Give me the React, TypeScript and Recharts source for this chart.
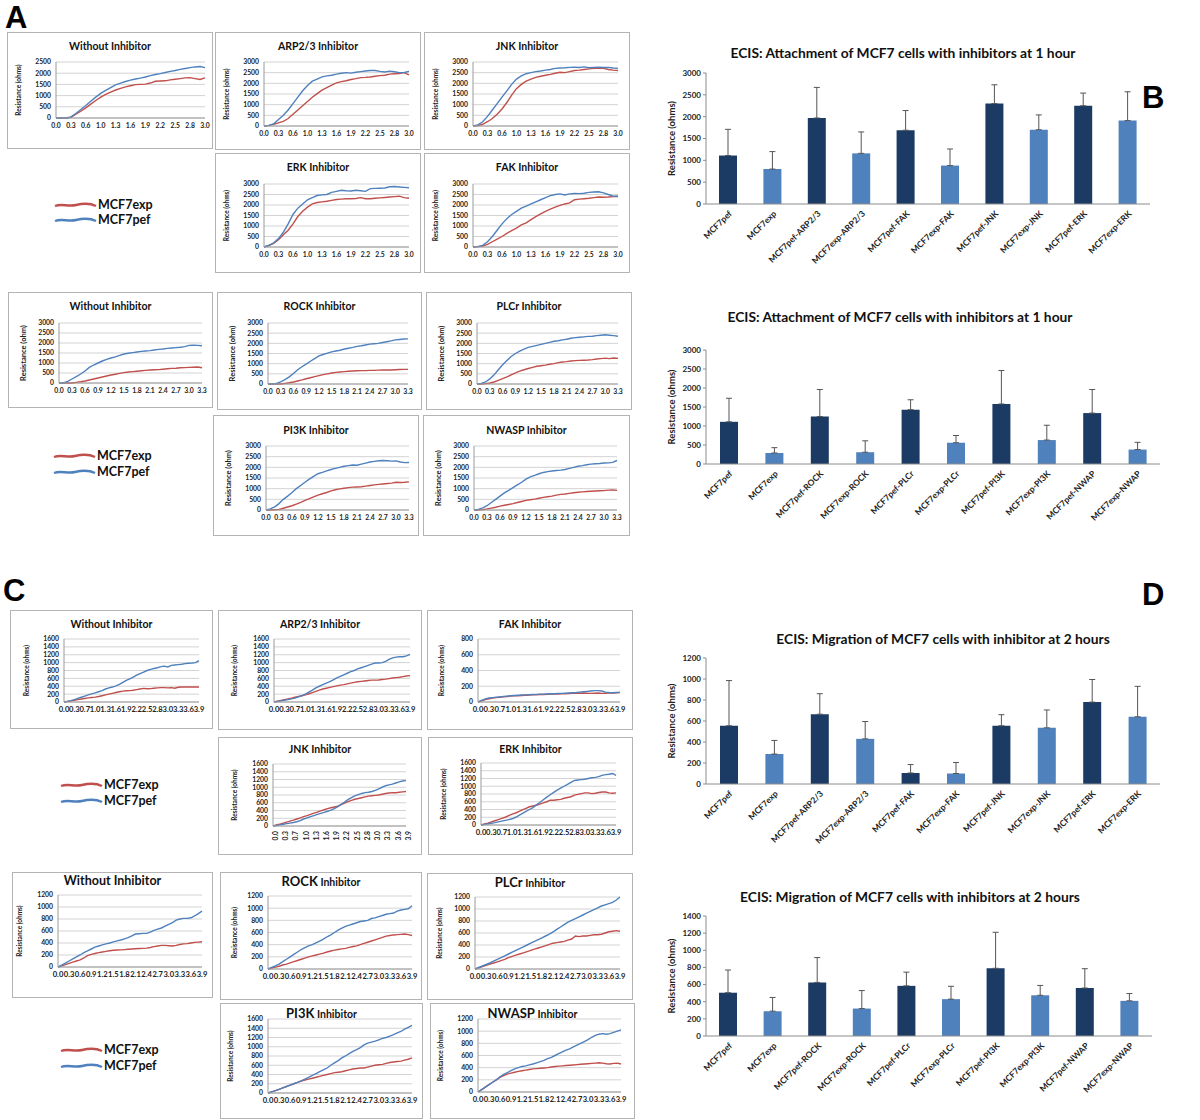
import React from 'react';
import { LineChart, Line, XAxis, YAxis, CartesianGrid, BarChart, Bar, Cell, ErrorBar } from 'recharts';

const RED = '#C0504D';
const BLUE = '#4F81BD';
const NAVY = '#1B3A64';
const FONT = 'Lato, "Open Sans", sans-serif';

// ---- time categories ----
const timesA30 = ['0.0', '0.1', '0.2', '0.3', '0.4', '0.5', '0.6', '0.7', '0.8', '1.0', '1.1', '1.2', '1.3', '1.4', '1.5', '1.6', '1.7', '1.8', '1.9', '2.0', '2.1', '2.2', '2.3', '2.4', '2.5', '2.6', '2.7', '2.8', '2.9', '2.95', '3.0'];
const timesA33 = ['0.0', '0.1', '0.2', '0.3', '0.4', '0.5', '0.6', '0.7', '0.8', '0.9', '1.0', '1.1', '1.2', '1.3', '1.4', '1.5', '1.6', '1.7', '1.8', '1.9', '2.0', '2.1', '2.2', '2.3', '2.4', '2.5', '2.6', '2.7', '2.8', '2.9', '3.0', '3.1', '3.2', '3.3'];
const timesC1 = ['0.0', '0.1', '0.2', '0.3', '0.4', '0.6', '0.7', '0.8', '0.9', '1.0', '1.1', '1.2', '1.3', '1.4', '1.5', '1.6', '1.7', '1.8', '1.9', '2.0', '2.1', '2.2', '2.3', '2.4', '2.5', '2.6', '2.7', '2.8', '2.9', '2.95', '3.0', '3.1', '3.2', '3.3', '3.4', '3.5', '3.6', '3.7', '3.8', '3.9'];
const timesC2 = ['0.0', '0.1', '0.2', '0.3', '0.4', '0.5', '0.6', '0.7', '0.8', '0.9', '1.0', '1.1', '1.2', '1.3', '1.4', '1.5', '1.6', '1.7', '1.8', '1.9', '2.0', '2.1', '2.2', '2.3', '2.4', '2.5', '2.6', '2.7', '2.8', '2.9', '3.0', '3.1', '3.2', '3.3', '3.4', '3.5', '3.6', '3.7', '3.8', '3.9'];

// ---- y ticks ----
const ticks2500 = [0, 500, 1000, 1500, 2000, 2500];
const ticks3000 = [0, 500, 1000, 1500, 2000, 2500, 3000];
const ticks1600 = [0, 200, 400, 600, 800, 1000, 1200, 1400, 1600];
const ticks800 = [0, 200, 400, 600, 800];
const ticks1200 = [0, 200, 400, 600, 800, 1000, 1200];
const ticks1400 = [0, 200, 400, 600, 800, 1000, 1200, 1400];

// ---- panel A, attachment curves (exp = red, pef = blue) ----
const aNoInhExp = [0, 0, 0, 30, 170, 300, 450, 620, 780, 930, 1050, 1160, 1250, 1320, 1390, 1440, 1490, 1500, 1510, 1560, 1640, 1650, 1660, 1700, 1730, 1760, 1790, 1800, 1760, 1720, 1790];
const aNoInhPef = [0, 0, 0, 50, 200, 380, 560, 750, 930, 1100, 1230, 1360, 1480, 1560, 1630, 1690, 1740, 1780, 1830, 1890, 1940, 1980, 2030, 2080, 2120, 2170, 2210, 2250, 2280, 2300, 2250];
const aArpExp = [0, 30, 80, 150, 220, 350, 550, 750, 950, 1150, 1350, 1520, 1680, 1800, 1920, 2020, 2080, 2120, 2180, 2220, 2270, 2280, 2300, 2330, 2360, 2380, 2430, 2450, 2460, 2500, 2400];
const aArpPef = [0, 30, 100, 300, 500, 750, 1050, 1350, 1650, 1900, 2100, 2200, 2300, 2350, 2380, 2430, 2470, 2500, 2480, 2520, 2550, 2580, 2600, 2600, 2560, 2530, 2570, 2540, 2500, 2510, 2560];
const aJnkExp = [0, 20, 80, 200, 350, 550, 800, 1100, 1450, 1750, 1950, 2100, 2200, 2280, 2330, 2380, 2420, 2470, 2520, 2500, 2550, 2600, 2620, 2650, 2680, 2700, 2710, 2700, 2650, 2620, 2600];
const aJnkPef = [0, 50, 200, 450, 750, 1050, 1350, 1650, 1950, 2200, 2350, 2450, 2500, 2550, 2580, 2620, 2650, 2700, 2720, 2730, 2750, 2760, 2740, 2770, 2730, 2750, 2760, 2740, 2750, 2720, 2700];
const aErkExp = [0, 70, 170, 350, 580, 800, 1100, 1450, 1700, 1900, 2050, 2120, 2150, 2180, 2220, 2260, 2280, 2300, 2300, 2310, 2350, 2300, 2300, 2320, 2340, 2360, 2380, 2400, 2420, 2350, 2320];
const aErkPef = [0, 80, 200, 400, 700, 1100, 1550, 1850, 2050, 2250, 2350, 2450, 2480, 2500, 2600, 2650, 2700, 2680, 2670, 2700, 2680, 2650, 2780, 2790, 2800, 2810, 2870, 2880, 2860, 2840, 2820];
const aFakExp = [0, 20, 40, 120, 250, 380, 500, 650, 780, 900, 1050, 1150, 1300, 1450, 1580, 1700, 1800, 1900, 1980, 2050, 2100, 2250, 2280, 2300, 2320, 2350, 2380, 2370, 2380, 2400, 2400];
const aFakPef = [0, 20, 80, 250, 500, 800, 1100, 1350, 1550, 1700, 1850, 1950, 2050, 2150, 2250, 2350, 2450, 2500, 2530, 2480, 2530, 2550, 2540, 2560, 2600, 2620, 2630, 2580, 2500, 2420, 2430];

const a2NoInhExp = [0, 0, 0, 0, 30, 60, 100, 150, 200, 250, 300, 350, 400, 440, 480, 520, 550, 570, 590, 610, 630, 650, 660, 670, 690, 710, 730, 740, 760, 770, 780, 790, 800, 760];
const a2NoInhPef = [0, 0, 80, 200, 320, 450, 600, 780, 900, 1000, 1100, 1180, 1250, 1310, 1380, 1450, 1490, 1520, 1550, 1580, 1600, 1620, 1650, 1680, 1700, 1730, 1750, 1770, 1790, 1820, 1880, 1890, 1880, 1860];
const aRockExp = [0, 0, 0, 0, 30, 60, 100, 150, 200, 260, 310, 360, 410, 460, 500, 540, 570, 590, 610, 630, 640, 650, 660, 660, 670, 670, 680, 690, 690, 690, 700, 710, 720, 720];
const aRockPef = [0, 0, 30, 100, 220, 350, 520, 700, 850, 980, 1120, 1250, 1380, 1450, 1520, 1580, 1620, 1660, 1720, 1760, 1800, 1850, 1880, 1920, 1960, 1980, 2000, 2040, 2080, 2120, 2170, 2190, 2210, 2220];
const aPlcExp = [0, 0, 20, 50, 100, 180, 260, 350, 450, 550, 630, 700, 760, 820, 870, 900, 930, 970, 1000, 1050, 1080, 1100, 1130, 1150, 1160, 1170, 1180, 1200, 1230, 1250, 1270, 1250, 1280, 1260];
const aPlcPef = [0, 30, 100, 250, 450, 700, 950, 1150, 1350, 1500, 1620, 1720, 1800, 1850, 1900, 1950, 2000, 2050, 2100, 2130, 2170, 2200, 2250, 2280, 2300, 2320, 2340, 2350, 2380, 2400, 2420, 2400, 2380, 2350];
const aPi3Exp = [0, 0, 10, 30, 80, 140, 200, 280, 360, 450, 530, 620, 700, 760, 820, 900, 950, 990, 1020, 1050, 1070, 1080, 1090, 1120, 1150, 1180, 1200, 1220, 1240, 1260, 1300, 1290, 1300, 1320];
const aPi3Pef = [0, 50, 150, 300, 500, 650, 820, 1000, 1150, 1300, 1450, 1580, 1700, 1760, 1830, 1900, 1950, 2000, 2050, 2080, 2110, 2100, 2150, 2200, 2250, 2280, 2310, 2320, 2310, 2290, 2300, 2250, 2220, 2230];
const aNwaExp = [0, 0, 20, 50, 90, 130, 180, 220, 260, 300, 350, 400, 450, 480, 510, 550, 590, 620, 650, 700, 730, 750, 780, 810, 830, 850, 870, 880, 890, 900, 910, 930, 940, 920];
const aNwaPef = [0, 30, 100, 200, 350, 500, 650, 800, 920, 1050, 1180, 1300, 1450, 1550, 1620, 1700, 1760, 1800, 1830, 1850, 1870, 1900, 1950, 2000, 2050, 2080, 2120, 2150, 2170, 2180, 2200, 2210, 2230, 2320];

// ---- panel C, migration curves ----
const cNoInhExp = [0, 15, 30, 45, 60, 75, 90, 105, 115, 125, 140, 160, 180, 200, 220, 240, 260, 275, 285, 290, 300, 315, 330, 345, 335, 340, 350, 360, 365, 365, 360, 365, 350, 375, 380, 380, 380, 380, 380, 380];
const cNoInhPef = [0, 15, 35, 60, 90, 120, 150, 180, 205, 230, 260, 290, 330, 360, 380, 410, 450, 500, 550, 590, 630, 680, 720, 760, 800, 830, 850, 870, 900, 910, 890, 930, 940, 950, 960, 975, 985, 990, 1000, 1050];
const cArpExp = [0, 20, 40, 60, 80, 100, 120, 140, 160, 180, 210, 240, 270, 300, 330, 350, 370, 390, 410, 430, 440, 460, 480, 500, 515, 525, 535, 545, 555, 555, 560, 570, 580, 595, 610, 620, 630, 645, 660, 670];
const cArpPef = [0, 15, 30, 45, 60, 80, 100, 130, 160, 200, 250, 300, 360, 400, 440, 480, 520, 560, 610, 650, 690, 730, 770, 800, 840, 870, 900, 930, 960, 990, 990, 1000, 1030, 1080, 1120, 1140, 1150, 1150, 1170, 1210];
const cFakExp = [0, 15, 30, 40, 50, 55, 60, 65, 70, 75, 78, 80, 82, 85, 88, 90, 92, 95, 95, 98, 100, 100, 102, 105, 105, 108, 110, 110, 112, 115, 112, 110, 112, 115, 110, 112, 115, 115, 118, 120];
const cFakPef = [0, 20, 40, 50, 55, 60, 65, 70, 75, 80, 82, 85, 88, 90, 92, 95, 97, 100, 100, 102, 105, 105, 108, 110, 112, 115, 118, 120, 125, 130, 135, 140, 145, 145, 140, 125, 120, 118, 120, 122];
const cJnkExp = [0, 25, 50, 75, 100, 125, 150, 180, 210, 240, 270, 300, 330, 360, 390, 420, 450, 470, 490, 510, 550, 590, 630, 660, 690, 710, 730, 750, 770, 780, 790, 800, 820, 840, 850, 860, 860, 870, 880, 890];
const cJnkPef = [0, 15, 30, 45, 60, 75, 90, 110, 140, 180, 210, 240, 270, 300, 325, 350, 380, 410, 450, 500, 560, 620, 680, 730, 780, 810, 840, 860, 870, 890, 920, 960, 1000, 1040, 1060, 1080, 1110, 1140, 1160, 1170];
const cErkExp = [0, 25, 50, 80, 110, 140, 170, 200, 240, 280, 310, 350, 390, 430, 470, 490, 510, 540, 570, 600, 640, 640, 650, 660, 690, 710, 730, 770, 790, 810, 830, 830, 810, 820, 840, 850, 850, 830, 820, 830];
const cErkPef = [0, 15, 30, 45, 60, 80, 100, 120, 140, 160, 200, 250, 300, 350, 400, 450, 520, 580, 650, 720, 780, 840, 900, 950, 1000, 1050, 1100, 1150, 1160, 1170, 1180, 1200, 1220, 1230, 1250, 1280, 1300, 1310, 1330, 1280];

const c2NoInhExp = [0, 20, 40, 60, 80, 100, 120, 150, 190, 210, 225, 240, 250, 260, 270, 280, 283, 286, 290, 295, 300, 305, 308, 310, 315, 325, 340, 350, 360, 360, 355, 350, 360, 375, 385, 390, 400, 410, 415, 420];
const c2NoInhPef = [0, 30, 65, 100, 135, 170, 200, 240, 270, 300, 330, 350, 370, 385, 400, 420, 435, 450, 470, 490, 520, 550, 555, 560, 560, 580, 610, 630, 650, 680, 710, 740, 780, 800, 810, 810, 820, 850, 890, 930];
const cRockExp = [0, 15, 30, 45, 65, 80, 100, 120, 140, 160, 180, 200, 215, 230, 245, 260, 280, 295, 310, 320, 330, 340, 355, 370, 380, 400, 420, 440, 460, 480, 500, 520, 540, 550, 560, 565, 570, 575, 565, 550];
const cRockPef = [0, 25, 50, 80, 120, 160, 200, 240, 280, 320, 350, 380, 400, 430, 460, 490, 530, 560, 600, 640, 670, 700, 720, 740, 760, 780, 790, 800, 830, 840, 860, 880, 900, 910, 920, 950, 970, 980, 990, 1040];
const cPlcExp = [0, 20, 40, 60, 80, 100, 120, 140, 160, 190, 210, 230, 250, 270, 290, 310, 330, 350, 370, 390, 410, 430, 440, 450, 460, 480, 500, 550, 540, 550, 550, 560, 570, 570, 580, 600, 620, 630, 640, 630];
const cPlcPef = [0, 25, 50, 75, 100, 130, 160, 190, 220, 250, 280, 310, 340, 370, 400, 430, 460, 490, 520, 550, 580, 620, 660, 700, 740, 780, 810, 840, 870, 900, 930, 960, 990, 1020, 1050, 1070, 1090, 1110, 1150, 1200];
const cPi3Exp = [0, 25, 50, 80, 110, 140, 170, 200, 230, 260, 280, 300, 320, 340, 360, 380, 400, 420, 440, 450, 460, 480, 500, 520, 530, 540, 540, 560, 580, 600, 610, 620, 640, 660, 670, 680, 690, 710, 730, 760];
const cPi3Pef = [0, 25, 50, 80, 110, 140, 170, 200, 230, 260, 300, 340, 380, 420, 460, 500, 540, 600, 650, 700, 760, 800, 850, 900, 940, 980, 1040, 1080, 1100, 1120, 1150, 1180, 1200, 1230, 1260, 1300, 1330, 1380, 1420, 1460];
const cNwaExp = [0, 40, 80, 120, 160, 200, 240, 270, 295, 310, 325, 340, 350, 360, 370, 380, 385, 390, 395, 400, 410, 420, 425, 430, 435, 440, 445, 450, 455, 460, 465, 470, 475, 480, 475, 465, 460, 470, 475, 460];
const cNwaPef = [0, 40, 80, 120, 160, 200, 250, 290, 320, 350, 380, 400, 420, 430, 445, 460, 480, 500, 520, 550, 570, 600, 630, 660, 690, 710, 740, 770, 800, 830, 860, 900, 930, 950, 960, 950, 960, 980, 1000, 1020];

// ---- bar charts ----
const groupB1 = ['MCF7pef', 'MCF7exp', 'MCF7pef-ARP2/3', 'MCF7exp-ARP2/3', 'MCF7pef-FAK', 'MCF7exp-FAK', 'MCF7pef-JNK', 'MCF7exp-JNK', 'MCF7pef-ERK', 'MCF7exp-ERK'];
const groupB2 = ['MCF7pef', 'MCF7exp', 'MCF7pef-ROCK', 'MCF7exp-ROCK', 'MCF7pef-PLCr', 'MCF7exp-PLCr', 'MCF7pef-PI3K', 'MCF7exp-PI3K', 'MCF7pef-NWAP', 'MCF7exp-NWAP'];
const attach1Mean = [1110, 800, 1970, 1160, 1690, 880, 2300, 1700, 2250, 1910];
const attach1Err = [600, 400, 700, 490, 450, 380, 430, 340, 290, 660];
const attach2Mean = [1110, 290, 1250, 310, 1430, 560, 1580, 630, 1340, 380];
const attach2Err = [620, 140, 710, 300, 260, 190, 880, 390, 620, 190];
const migr1Mean = [555, 285, 665, 430, 105, 100, 555, 535, 780, 640];
const migr1Err = [430, 130, 195, 165, 80, 105, 105, 170, 215, 290];
const migr2Mean = [505, 290, 625, 320, 585, 430, 790, 475, 560, 410];
const migr2Err = [265, 160, 290, 210, 160, 150, 420, 115, 225, 85];

type MiniProps = {
  box: [number, number, number, number];
  inset: [number, number, number, number];
  title: React.ReactNode;
  titleTop?: number;
  titleSize?: number;
  times: string[];
  red: number[];
  blue: number[];
  ticks: number[];
  yLabel?: string;
  labelOffset?: number;
  labelSize?: number;
  xFont?: number;
  rotateTicks?: boolean;
};

function MiniChart({ box, inset, title, titleTop = 8, titleSize = 10.5, times, red, blue, ticks, yLabel = 'Resistance (ohms)', labelOffset = 11, labelSize = 6.5, xFont = 6.8, rotateTicks = false }: MiniProps) {
  const data = times.map((t, i) => ({ t, exp: red[i], pef: blue[i] }));
  const [pl, pt, pr, pb] = inset;
  const top = ticks[ticks.length - 1];
  const yTick = { fontSize: 6.8, fontWeight: 700, fill: '#222', fontFamily: FONT };
  const xTick = { ...yTick, fontSize: xFont };
  return (
    <div style={{ position: 'absolute', left: box[0], top: box[1], width: box[2], height: box[3], border: '1px solid #b4b4b4', boxSizing: 'border-box', background: '#fff' }}>
      <div style={{ position: 'absolute', left: 0, top: 0 }}>
        <LineChart width={box[2] - 2} height={box[3] - 2} data={data} margin={{ top: pt, right: pr, left: 0, bottom: 0 }}>
          <CartesianGrid vertical={false} stroke="#d3d3d3" />
          <XAxis
            dataKey="t"
            interval={2}
            height={pb}
            tickLine={false}
            tickSize={3}
            axisLine={{ stroke: '#9a9a9a' }}
            tick={xTick}
            angle={rotateTicks ? -90 : 0}
            textAnchor={rotateTicks ? 'end' : 'middle'}
          />
          <YAxis
            width={pl}
            domain={[0, top]}
            ticks={ticks}
            interval={0}
            tickLine={false}
            tickSize={3}
            axisLine={{ stroke: '#9a9a9a' }}
            tick={yTick}
            label={{ value: yLabel, angle: -90, position: 'insideLeft', offset: labelOffset, style: { textAnchor: 'middle', fontSize: labelSize, fontWeight: 700, fill: '#222', fontFamily: FONT } }}
          />
          <Line type="linear" dataKey="exp" stroke={RED} strokeWidth={1.4} dot={false} isAnimationActive={false} />
          <Line type="linear" dataKey="pef" stroke={BLUE} strokeWidth={1.4} dot={false} isAnimationActive={false} />
        </LineChart>
      </div>
      <div style={{ position: 'absolute', left: 0, right: 0, top: titleTop, textAlign: 'center', fontFamily: FONT, fontWeight: 700, fontSize: titleSize, lineHeight: 1, color: '#111', whiteSpace: 'nowrap' }}>
        {title}
      </div>
    </div>
  );
}

function SeriesKey({ x, y, gap }: { x: number; y: number; gap: number }) {
  const wave = (cy: number) => `M1 ${cy + 1} C 8 ${cy - 2}, 14 ${cy + 2}, 22 ${cy} S 36 ${cy - 2}, 42 ${cy + 1}`;
  const text: React.CSSProperties = { position: 'absolute', left: 44, fontFamily: FONT, fontWeight: 700, fontSize: 12.5, lineHeight: '12px', color: '#111' };
  return (
    <div style={{ position: 'absolute', left: x, top: y }}>
      <svg width={44} height={gap + 12} style={{ position: 'absolute', left: 0, top: 0 }}>
        <path d={wave(6)} stroke={RED} strokeWidth={2.4} fill="none" />
        <path d={wave(6 + gap)} stroke={BLUE} strokeWidth={2.4} fill="none" />
      </svg>
      <div style={{ ...text, top: 0 }}>MCF7exp</div>
      <div style={{ ...text, top: gap }}>MCF7pef</div>
    </div>
  );
}

type BarProps = {
  plotTop: number;
  plotBottom: number;
  right: number;
  labels: string[];
  means: number[];
  errs: number[];
  ticks: number[];
  title: string;
  titleX: number;
  titleY: number;
};

function BarPanel({ plotTop, plotBottom, right, labels, means, errs, ticks, title, titleX, titleY }: BarProps) {
  const data = labels.map((name, i) => ({ name, value: means[i], err: [0, errs[i]] }));
  const left = 640;
  const width = right - left + 10;
  const xh = 66;
  const height = 8 + (plotBottom - plotTop) + xh;
  const top = ticks[ticks.length - 1];
  return (
    <>
      <div style={{ position: 'absolute', left: titleX - 260, width: 520, top: titleY - 8, textAlign: 'center', fontFamily: FONT, fontWeight: 700, fontSize: 13.8, lineHeight: '16px', color: '#111' }}>{title}</div>
      <div style={{ position: 'absolute', left, top: plotTop - 8 }}>
        <BarChart width={width} height={height} data={data} margin={{ top: 8, right: 10, left: 20, bottom: 0 }}>
          <XAxis
            dataKey="name"
            interval={0}
            angle={-45}
            textAnchor="end"
            height={xh}
            tickLine={false}
            tickSize={4}
            axisLine={{ stroke: '#8c8c8c' }}
            tick={{ fontSize: 8.5, fontWeight: 700, fill: '#222', fontFamily: FONT }}
          />
          <YAxis
            width={46}
            domain={[0, top]}
            ticks={ticks}
            interval={0}
            tickSize={3}
            axisLine={{ stroke: '#8c8c8c' }}
            tickLine={{ stroke: '#8c8c8c' }}
            tick={{ fontSize: 8, fontWeight: 700, fill: '#222', fontFamily: FONT }}
            label={{ value: 'Resistance (ohms)', angle: -90, position: 'insideLeft', offset: 12, style: { textAnchor: 'middle', fontSize: 9.5, fontWeight: 700, fill: '#222', fontFamily: FONT } }}
          />
          <Bar dataKey="value" barSize={18} isAnimationActive={false}>
            {data.map((d, i) => (
              <Cell key={d.name} fill={i % 2 === 0 ? NAVY : BLUE} />
            ))}
            <ErrorBar dataKey="err" width={3} stroke="#555" strokeWidth={1} direction="y" />
          </Bar>
        </BarChart>
      </div>
    </>
  );
}

const letterStyle: React.CSSProperties = { position: 'absolute', fontFamily: '"Liberation Sans", Arial, sans-serif', fontWeight: 700, fontSize: 31, lineHeight: '31px', color: '#000' };

function mixTitle(big: string, small: string) {
  return (
    <>
      <span style={{ fontSize: 13 }}>{big}</span> <span style={{ fontSize: 10.5 }}>{small}</span>
    </>
  );
}

export default function App() {
  return (
    <div style={{ position: 'absolute', left: 0, top: 0, width: 1200, height: 1120, background: '#fff', overflow: 'hidden' }}>
      <div style={{ ...letterStyle, left: 5, top: 2 }}>A</div>
      <div style={{ ...letterStyle, left: 1142, top: 82 }}>B</div>
      <div style={{ ...letterStyle, left: 3, top: 575 }}>C</div>
      <div style={{ ...letterStyle, left: 1142, top: 579 }}>D</div>

      {/* Panel A */}
      <MiniChart box={[7, 32, 206, 117]} inset={[48, 29, 7, 30]} title="Without Inhibitor" times={timesA30} red={aNoInhExp} blue={aNoInhPef} ticks={ticks2500} />
      <MiniChart box={[215, 32, 206, 118]} inset={[48, 29, 11, 23]} title="ARP2/3 Inhibitor" times={timesA30} red={aArpExp} blue={aArpPef} ticks={ticks3000} />
      <MiniChart box={[424, 32, 206, 118]} inset={[48, 29, 11, 23]} title="JNK Inhibitor" times={timesA30} red={aJnkExp} blue={aJnkPef} ticks={ticks3000} />
      <MiniChart box={[215, 153, 206, 120]} inset={[48, 30, 11, 25]} title="ERK Inhibitor" times={timesA30} red={aErkExp} blue={aErkPef} ticks={ticks3000} />
      <MiniChart box={[424, 153, 206, 120]} inset={[48, 30, 11, 25]} title="FAK Inhibitor" times={timesA30} red={aFakExp} blue={aFakPef} ticks={ticks3000} />
      <SeriesKey x={54} y={199} gap={15} />

      <MiniChart box={[8, 292, 205, 116]} inset={[50, 30, 10, 24]} title="Without Inhibitor" times={timesA33} red={a2NoInhExp} blue={a2NoInhPef} ticks={ticks3000} yLabel="Resistance (ohm)" labelOffset={14} labelSize={7.5} />
      <MiniChart box={[217, 292, 205, 118]} inset={[50, 30, 13, 25]} title="ROCK Inhibitor" times={timesA33} red={aRockExp} blue={aRockPef} ticks={ticks3000} yLabel="Resistance (ohm)" labelOffset={14} labelSize={7.5} />
      <MiniChart box={[426, 292, 206, 118]} inset={[50, 30, 13, 25]} title="PLCr Inhibitor" times={timesA33} red={aPlcExp} blue={aPlcPef} ticks={ticks3000} yLabel="Resistance (ohm)" labelOffset={14} labelSize={7.5} />
      <MiniChart box={[213, 415, 206, 121]} inset={[52, 30, 9, 25]} title="PI3K Inhibitor" titleTop={9} times={timesA33} red={aPi3Exp} blue={aPi3Pef} ticks={ticks3000} yLabel="Resistance (ohm)" labelOffset={14} labelSize={7.5} />
      <MiniChart box={[423, 415, 207, 121]} inset={[50, 30, 12, 25]} title="NWASP Inhibitor" titleTop={9} times={timesA33} red={aNwaExp} blue={aNwaPef} ticks={ticks3000} yLabel="Resistance (ohm)" labelOffset={14} labelSize={7.5} />
      <SeriesKey x={53} y={450} gap={16} />

      {/* Panel B */}
      <BarPanel plotTop={73} plotBottom={204} right={1150} labels={groupB1} means={attach1Mean} errs={attach1Err} ticks={ticks3000} title="ECIS: Attachment of MCF7 cells with inhibitors at 1 hour" titleX={903} titleY={53} />
      <BarPanel plotTop={350} plotBottom={464} right={1160} labels={groupB2} means={attach2Mean} errs={attach2Err} ticks={ticks3000} title="ECIS: Attachment of MCF7 cells with inhibitors at 1 hour" titleX={900} titleY={317} />

      {/* Panel C */}
      <MiniChart box={[10, 610, 203, 119]} inset={[53, 28, 13, 26]} title="Without Inhibitor" times={timesC1} red={cNoInhExp} blue={cNoInhPef} ticks={ticks1600} labelOffset={16} xFont={7.6} />
      <MiniChart box={[218, 610, 204, 120]} inset={[55, 28, 11, 27]} title="ARP2/3 Inhibitor" times={timesC1} red={cArpExp} blue={cArpPef} ticks={ticks1600} labelOffset={16} xFont={7.6} />
      <MiniChart box={[427, 610, 206, 120]} inset={[50, 28, 12, 27]} title="FAK Inhibitor" times={timesC1} red={cFakExp} blue={cFakPef} ticks={ticks800} labelOffset={14} xFont={7.6} />
      <MiniChart box={[218, 737, 204, 118]} inset={[54, 26, 15, 28]} title="JNK Inhibitor" titleTop={6} times={timesC1} red={cJnkExp} blue={cJnkPef} ticks={ticks1600} labelOffset={16} rotateTicks />
      <MiniChart box={[428, 737, 205, 118]} inset={[52, 25, 16, 29]} title="ERK Inhibitor" titleTop={6} times={timesC1} red={cErkExp} blue={cErkPef} ticks={ticks1600} labelOffset={15} xFont={7.6} />
      <SeriesKey x={60} y={779} gap={16} />

      <MiniChart box={[12, 872, 201, 126]} inset={[45, 22, 10, 30]} title="Without Inhibitor" titleTop={2} titleSize={12.5} times={timesC2} red={c2NoInhExp} blue={c2NoInhPef} ticks={ticks1200} labelOffset={7} xFont={7.6} />
      <MiniChart box={[220, 872, 202, 128]} inset={[47, 23, 9, 30]} title={mixTitle('ROCK', 'Inhibitor')} titleTop={2} times={timesC2} red={cRockExp} blue={cRockPef} ticks={ticks1200} labelOffset={14} xFont={7.6} />
      <MiniChart box={[427, 873, 206, 127]} inset={[47, 23, 12, 30]} title={mixTitle('PLCr', 'Inhibitor')} titleTop={2} times={timesC2} red={cPlcExp} blue={cPlcPef} ticks={ticks1200} labelOffset={12} xFont={7.6} />
      <MiniChart box={[220, 1003, 203, 116]} inset={[47, 15, 10, 25]} title={mixTitle('PI3K', 'Inhibitor')} titleTop={3} times={timesC2} red={cPi3Exp} blue={cPi3Pef} ticks={ticks1600} labelOffset={10} xFont={7.6} />
      <MiniChart box={[430, 1003, 205, 116]} inset={[47, 15, 13, 26]} title={mixTitle('NWASP', 'Inhibitor')} titleTop={3} times={timesC2} red={cNwaExp} blue={cNwaPef} ticks={ticks1200} labelOffset={10} xFont={7.6} />
      <SeriesKey x={60} y={1044} gap={16} />

      {/* Panel D */}
      <BarPanel plotTop={658} plotBottom={784} right={1160} labels={groupB1} means={migr1Mean} errs={migr1Err} ticks={ticks1200} title="ECIS: Migration of MCF7 cells with inhibitor at 2 hours" titleX={943} titleY={639} />
      <BarPanel plotTop={916} plotBottom={1036} right={1152} labels={groupB2} means={migr2Mean} errs={migr2Err} ticks={ticks1400} title="ECIS: Migration of MCF7 cells with inhibitors at 2 hours" titleX={910} titleY={897} />
    </div>
  );
}
